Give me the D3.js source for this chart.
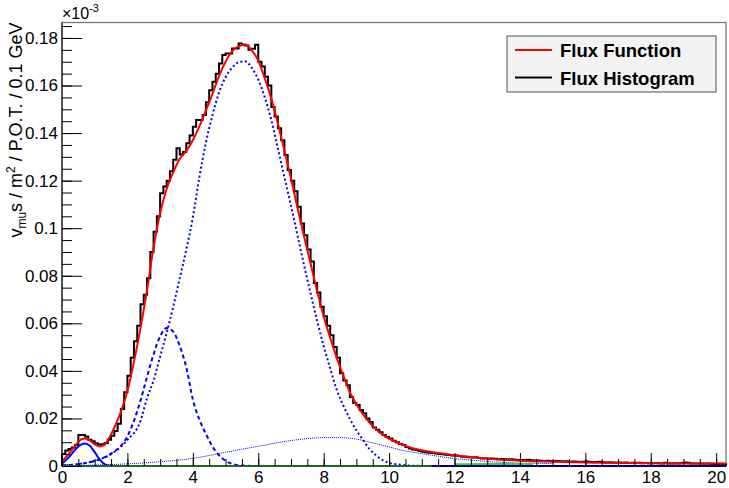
<!DOCTYPE html>
<html>
<head>
<meta charset="utf-8">
<script src="https://d3js.org/d3.v7.min.js"></script>
<style>
  body { margin: 0; background: #fff; }
  text { font-family: "Liberation Sans", Arial, Helvetica, sans-serif; }
</style>
</head>
<body>
<script>
// histogram, 0.1 GeV bins starting at 0 (units of 1e-3)
var binWidth = 0.1;
var histValues = [
  0.0050, 0.0065, 0.0072, 0.0078, 0.0088, 0.0130, 0.0130, 0.0124, 0.0110, 0.0104,
  0.0096, 0.0090, 0.0091, 0.0097, 0.0110, 0.0127, 0.0147, 0.0178, 0.0240, 0.0310,
  0.0380, 0.0455, 0.0525, 0.0590, 0.0680, 0.0720, 0.0790, 0.0900, 0.0985, 0.1050,
  0.1147, 0.1175, 0.1200, 0.1240, 0.1288, 0.1336, 0.1310, 0.1320, 0.1357, 0.1390,
  0.1427, 0.1455, 0.1455, 0.1476, 0.1530, 0.1580, 0.1616, 0.1650, 0.1693, 0.1728,
  0.1735, 0.1735, 0.1756, 0.1756, 0.1777, 0.1771, 0.1768, 0.1750, 0.1755, 0.1771,
  0.1700, 0.1680, 0.1637, 0.1600, 0.1510, 0.1470, 0.1420, 0.1370, 0.1308, 0.1245,
  0.1200, 0.1155, 0.1090, 0.1020, 0.0970, 0.0910, 0.0860, 0.0770, 0.0730, 0.0670,
  0.0630, 0.0590, 0.0550, 0.0500, 0.0455, 0.0390, 0.0360, 0.0340, 0.0290, 0.0265,
  0.0257, 0.0235, 0.0222, 0.0200, 0.0185, 0.0162, 0.0152, 0.0142, 0.0130, 0.0122,
  0.0116, 0.0106, 0.0100, 0.0092, 0.0088, 0.0080, 0.0074, 0.0069, 0.0067, 0.0063,
  0.0060, 0.0058, 0.0056, 0.0055, 0.0053, 0.0050, 0.0049, 0.0047, 0.0046, 0.0044,
  0.0044, 0.0042, 0.0039, 0.0039, 0.0037, 0.0036, 0.0037, 0.0034, 0.0032, 0.0033,
  0.0031, 0.0032, 0.0030, 0.0028, 0.0029, 0.0028, 0.0027, 0.0028, 0.0026, 0.0025,
  0.0025, 0.0024, 0.0026, 0.0024, 0.0023, 0.0023, 0.0022, 0.0021, 0.0022, 0.0021,
  0.0020, 0.0021, 0.0020, 0.0019, 0.0020, 0.0018, 0.0019, 0.0018, 0.0017, 0.0018,
  0.0019, 0.0017, 0.0016, 0.0017, 0.0018, 0.0016, 0.0015, 0.0016, 0.0015, 0.0014,
  0.0015, 0.0014, 0.0015, 0.0013, 0.0014, 0.0013, 0.0014, 0.0012, 0.0013, 0.0012,
  0.0012, 0.0013, 0.0012, 0.0011, 0.0014, 0.0012, 0.0011, 0.0012, 0.0010, 0.0013,
  0.0015, 0.0014, 0.0011, 0.0010, 0.0011, 0.0010, 0.0009, 0.0010, 0.0009, 0.0008,
  0.0008, 0.0009, 0.0007
];

// fit function (red), sampled [E, value]
var fluxFunction = [
  [0.0, 0.0020], [0.2, 0.0050], [0.4, 0.0085], [0.6, 0.0113], [0.7, 0.0116], [0.8, 0.0112],
  [1.0, 0.0092], [1.15, 0.0082], [1.3, 0.0090], [1.45, 0.0120], [1.6, 0.0162], [1.8, 0.0228],
  [2.0, 0.0315], [2.2, 0.0438], [2.4, 0.0580], [2.6, 0.0740], [2.8, 0.0920], [3.0, 0.1063],
  [3.2, 0.1165], [3.4, 0.1235], [3.6, 0.1292], [3.8, 0.1325], [4.0, 0.1370], [4.2, 0.1428],
  [4.4, 0.1495], [4.6, 0.1565], [4.8, 0.1640], [5.0, 0.1700], [5.2, 0.1745], [5.4, 0.1765],
  [5.6, 0.1772], [5.8, 0.1748], [6.0, 0.1705], [6.2, 0.1630], [6.4, 0.1545], [6.6, 0.1440],
  [6.8, 0.1327], [7.0, 0.1210], [7.2, 0.1085], [7.4, 0.0965], [7.6, 0.0852], [7.8, 0.0735],
  [8.0, 0.0630], [8.2, 0.0538], [8.4, 0.0455], [8.6, 0.0380], [8.8, 0.0310], [9.0, 0.0260],
  [9.2, 0.0218], [9.4, 0.0183], [9.6, 0.0155], [9.8, 0.0133], [10.0, 0.0115], [10.3, 0.0095],
  [10.6, 0.0080], [11.0, 0.0066], [11.5, 0.0055], [12.0, 0.0045], [12.5, 0.0038], [13.0, 0.0032],
  [13.5, 0.0026], [14.0, 0.0022], [15.0, 0.0018], [16.0, 0.0015], [17.0, 0.0013], [18.0, 0.0012],
  [19.0, 0.0011], [20.3, 0.0010]
];

// components (blue / green)
var compLow = [
  [0.0, 0.0010], [0.2, 0.0035], [0.4, 0.0068], [0.55, 0.0088], [0.7, 0.0095], [0.85, 0.0085],
  [1.0, 0.0058], [1.15, 0.0028], [1.3, 0.0008], [1.45, 0.0001], [1.6, 0], [20.3, 0]
];
var compMid = [
  [0.0, 0.0003], [0.5, 0.0008], [1.0, 0.0021], [1.5, 0.0052], [1.8, 0.0085], [2.0, 0.0125],
  [2.2, 0.0190], [2.4, 0.0275], [2.6, 0.0375], [2.8, 0.0470], [3.0, 0.0545], [3.2, 0.0580],
  [3.4, 0.0565], [3.6, 0.0505], [3.8, 0.0415], [4.0, 0.0280], [4.2, 0.0195], [4.4, 0.0135],
  [4.6, 0.0082], [4.8, 0.0045], [5.0, 0.0022], [5.2, 0.0009], [5.5, 0.0002], [6.0, 0]
];
var compMain = [
  [0.0, 0.0002], [0.5, 0.0008], [1.0, 0.0022], [1.5, 0.0050], [2.0, 0.0110], [2.4, 0.0190],
  [2.6, 0.0285], [2.8, 0.0360], [3.0, 0.0460], [3.2, 0.0560], [3.4, 0.0670], [3.6, 0.0790],
  [3.8, 0.0910], [4.0, 0.1045], [4.2, 0.1215], [4.4, 0.1360], [4.6, 0.1475], [4.8, 0.1570],
  [5.0, 0.1635], [5.2, 0.1675], [5.4, 0.1698], [5.6, 0.1702], [5.8, 0.1675], [6.0, 0.1625],
  [6.2, 0.1550], [6.4, 0.1455], [6.6, 0.1335], [6.8, 0.1215], [7.0, 0.1095], [7.2, 0.0970],
  [7.4, 0.0845], [7.6, 0.0726], [7.8, 0.0610], [8.0, 0.0505], [8.2, 0.0410], [8.4, 0.0320],
  [8.6, 0.0255], [8.8, 0.0198], [9.0, 0.0150], [9.2, 0.0110], [9.4, 0.0072], [9.6, 0.0045],
  [9.8, 0.0025], [10.0, 0.0013], [10.3, 0.0006], [10.8, 0.0001], [11.3, 0]
];
var compBroad = [
  [0.0, 0], [1.0, 0.0004], [2.0, 0.0009], [3.0, 0.0018], [4.0, 0.0032], [5.0, 0.0058],
  [6.0, 0.0083], [7.0, 0.0107], [8.0, 0.0119], [8.5, 0.0119], [9.0, 0.0113], [9.5, 0.0097],
  [10.0, 0.0080], [10.5, 0.0063], [11.0, 0.0052], [11.5, 0.0041], [12.0, 0.0031], [12.5, 0.0025],
  [13.0, 0.0019], [13.5, 0.0015], [14.0, 0.0012], [14.5, 0.0011], [15.0, 0.0010]
];
var greenLow = [[0.0, 0], [11.3, 0]];
var greenTail = [[12.0, 0.0007], [13.0, 0.0008], [14.4, 0.0008]];

var xTicks = d3.range(0, 21, 2);
var xMinor = d3.range(0, 20.3, 0.5);
var yTicks = [0, 0.02, 0.04, 0.06, 0.08, 0.1, 0.12, 0.14, 0.16, 0.18];
var yMinor = d3.range(0, 0.186, 0.005);

var legendLabels = ["Flux Function", "Flux Histogram"];
var legendColors = ["#ff0000", "#000000"];

var width = 729, height = 488;
var padLeft = 62, padRight = 726, padTop = 22.5, padBottom = 466;

var svg = d3.select("body").append("svg")
    .attr("width", width)
    .attr("height", height);

var x = d3.scaleLinear().domain([0, 20.3]).range([padLeft, padRight]);
var y = d3.scaleLinear().domain([0, 0.1865]).range([padBottom, padTop]);

// frame
svg.append("rect")
    .attr("x", padLeft).attr("y", padTop)
    .attr("width", padRight - padLeft).attr("height", padBottom - padTop)
    .attr("fill", "none")
    .attr("stroke", "#7a7a7a")
    .attr("stroke-width", 1.3);

// histogram outline
var histPts = [[0, 0]];
histValues.forEach(function(v, i) { histPts.push([i * binWidth, v]); });
histPts.push([histValues.length * binWidth, histValues[histValues.length - 1]]);
histPts.push([histValues.length * binWidth, 0]);

svg.append("path")
    .datum(histPts)
    .attr("fill", "none")
    .attr("stroke", "#000")
    .attr("stroke-width", 2)
    .attr("d", d3.line().x(function(d) { return x(d[0]); }).y(function(d) { return y(d[1]); })
      .curve(d3.curveStepAfter));

var line = d3.line()
    .x(function(d) { return x(d[0]); })
    .y(function(d) { return y(d[1]); })
    .curve(d3.curveMonotoneX);

function drawCurve(data, color, w, dash) {
  svg.append("path")
      .datum(data)
      .attr("fill", "none")
      .attr("stroke", color)
      .attr("stroke-width", w)
      .attr("stroke-dasharray", dash)
      .attr("d", line);
}

drawCurve(compBroad, "#0000ff", 1, "1,1");
drawCurve(compMain, "#0000ff", 2, "2,2.5");
drawCurve(compMid, "#0000ff", 2, "4,3");
drawCurve(compLow, "#0000ff", 2, null);
drawCurve(greenLow, "#44cc44", 2, null);
drawCurve(greenTail, "#44cc44", 2, null);
drawCurve(fluxFunction, "#ff0000", 2, null);

// axes
var fmt = function(d) { return d === 0 ? "0" : String(+d.toFixed(2)); };

var xAxis = svg.append("g").attr("transform", "translate(0," + padBottom + ")")
    .call(d3.axisBottom(x).tickValues(xTicks).tickSize(-13).tickPadding(5).tickFormat(fmt));
var xMinorAxis = svg.append("g").attr("transform", "translate(0," + padBottom + ")")
    .call(d3.axisBottom(x).tickValues(xMinor).tickSize(-7).tickFormat(""));

var yAxis = svg.append("g").attr("transform", "translate(" + padLeft + ",0)")
    .call(d3.axisLeft(y).tickValues(yTicks).tickSize(-20).tickPadding(4).tickFormat(fmt));
var yMinorAxis = svg.append("g").attr("transform", "translate(" + padLeft + ",0)")
    .call(d3.axisLeft(y).tickValues(yMinor).tickSize(-10).tickFormat(""));

[xAxis, xMinorAxis, yAxis, yMinorAxis].forEach(function(g) { g.select(".domain").remove(); });

svg.selectAll(".tick text")
    .attr("font-size", 17)
    .attr("font-family", "Liberation Sans, Arial, sans-serif")
    .attr("fill", "#000");
svg.append("line").attr("x1", padLeft).attr("x2", padRight).attr("y1", padBottom).attr("y2", padBottom)
    .attr("stroke", "#000");
svg.append("line").attr("x1", padLeft).attr("x2", padLeft).attr("y1", padTop).attr("y2", padBottom)
    .attr("stroke", "#000");

// exponent label
var ex = svg.append("text").attr("x", padLeft).attr("y", 19).attr("font-size", 16);
ex.append("tspan").text("\u00d710");
ex.append("tspan").attr("font-size", 11).attr("dy", -7).text("-3");

// y title
var yt = svg.append("text")
    .attr("transform", "translate(22," + padTop + ") rotate(-90)")
    .attr("text-anchor", "end")
    .attr("font-size", 18);
yt.append("tspan").text("v");
yt.append("tspan").attr("font-size", 12).attr("dy", 4).text("mu");
yt.append("tspan").attr("dy", -4).text("s / m");
yt.append("tspan").attr("font-size", 12).attr("dy", -7).text("2");
yt.append("tspan").attr("dy", 7).text(" / P.O.T. / 0.1 GeV");

// legend
var lg = svg.append("g").attr("transform", "translate(507,36)");
lg.append("rect").attr("width", 209).attr("height", 56)
    .attr("fill", "#f2f2f2").attr("stroke", "#555").attr("stroke-width", 1);
legendLabels.forEach(function(name, i) {
  var yy = 14 + i * 27.5;
  lg.append("line").attr("x1", 8).attr("x2", 45).attr("y1", yy).attr("y2", yy)
      .attr("stroke", legendColors[i]).attr("stroke-width", 2);
  lg.append("text").attr("x", 53).attr("y", yy + 7)
      .attr("font-size", 18.5).attr("font-weight", "bold").text(name);
});
</script>
</body>
</html>
